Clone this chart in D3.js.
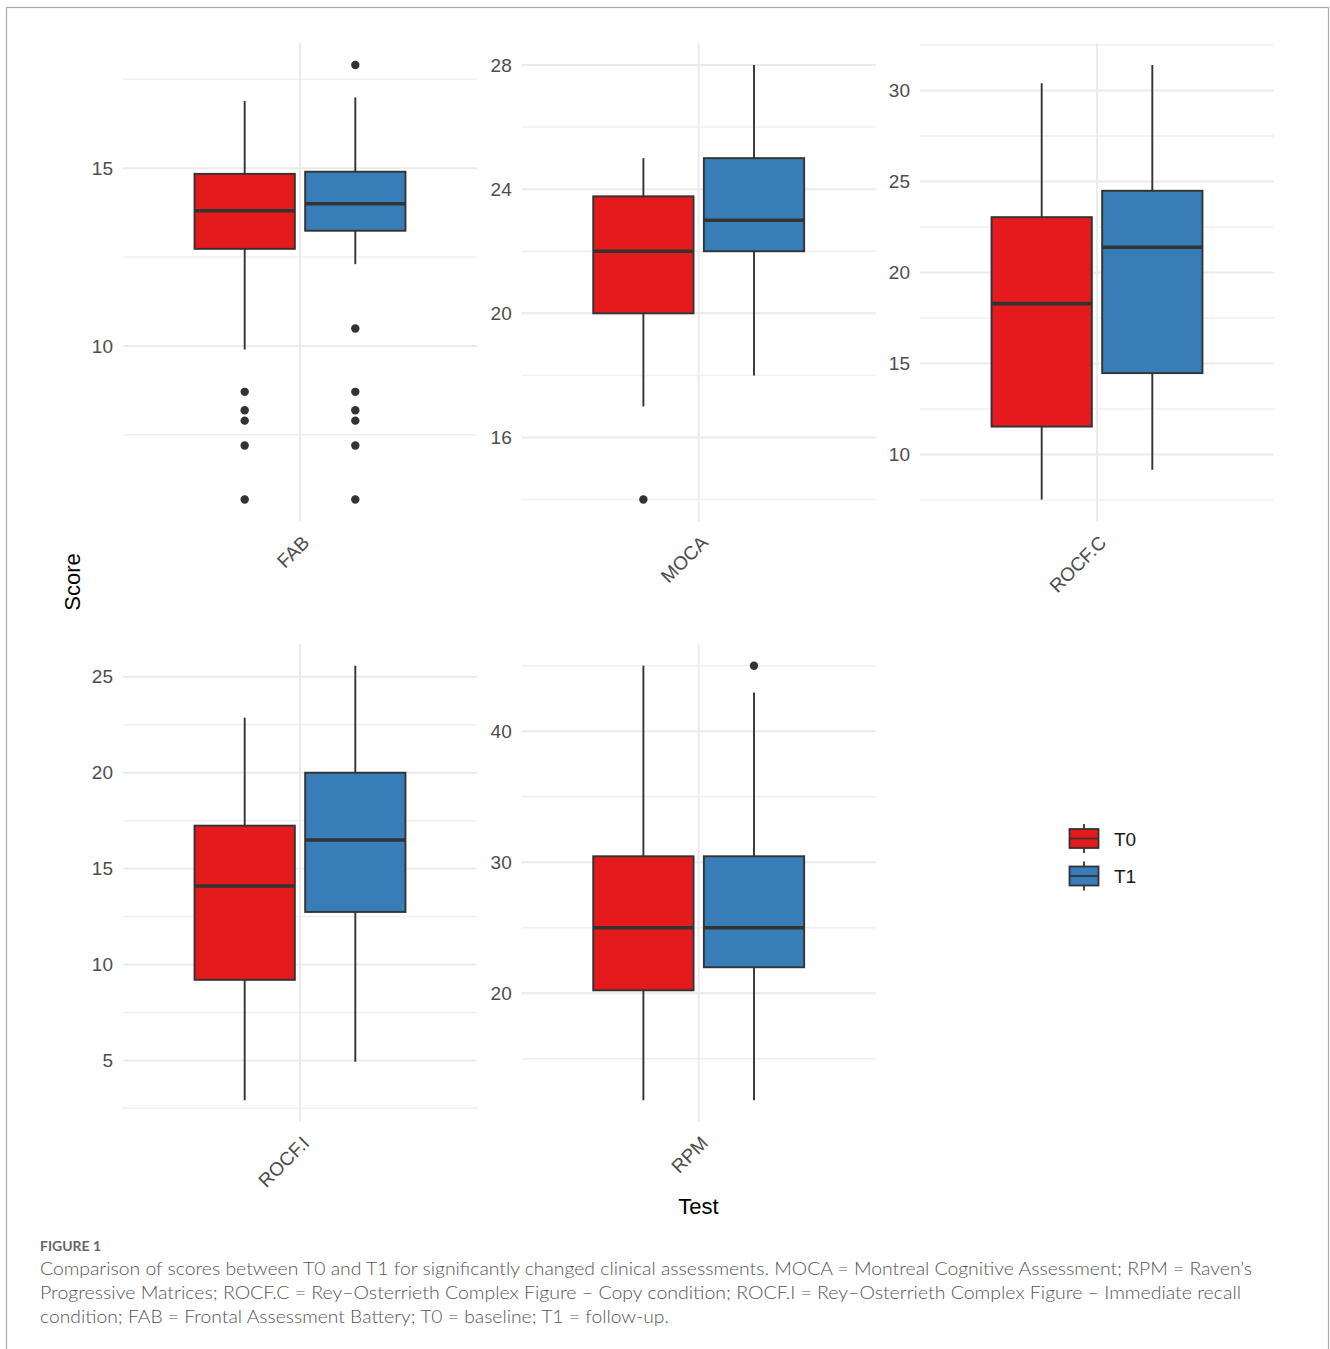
<!DOCTYPE html>
<html lang="en">
<head>
<meta charset="utf-8">
<title>Figure 1</title>
<script src="https://d3js.org/d3.v7.min.js"></script>
<style>
  body { margin: 0; background: white; }
  svg { font-family: "Liberation Sans", Arial, sans-serif; }
  .grid-major { stroke: #ebebeb; stroke-width: 2; }
  .grid-minor { stroke: #f0f0f0; stroke-width: 1.5; }
  .tick-label { fill: #4d4d4d; font-size: 19px; }
  .caption { fill: #555; font-family: Lato, "Open Sans", sans-serif; font-weight: 300; font-size: 17px; }
</style>
</head>
<body>
<div id="chart"></div>
<script>

// tests and groups
const tests = ["FAB", "MOCA", "ROCF.C", "ROCF.I", "RPM"];
const groups = ["T0", "T1"];

// box stats per test: [lower whisker, Q1, median, Q3, upper whisker]
const t0Stats = [
  [9.9, 12.73, 13.8, 14.84, 16.89],
  [17, 20, 22, 23.77, 25],
  [7.52, 11.53, 18.29, 23.04, 30.4],
  [2.92, 9.2, 14.09, 17.24, 22.87],
  [11.84, 20.23, 25, 30.46, 45]
];
const t1Stats = [
  [12.3, 13.24, 14.0, 14.9, 16.99],
  [18, 22, 23, 25, 28],
  [9.16, 14.47, 21.39, 24.49, 31.4],
  [4.93, 12.74, 16.49, 20, 25.58],
  [11.84, 21.99, 25, 30.46, 42.96]
];

// outliers per test
const t0Outliers = [[8.71, 8.19, 7.9, 7.2, 5.68], [14], [], [], []];
const t1Outliers = [[17.9, 10.49, 8.71, 8.19, 7.9, 7.2, 5.68], [], [], [], [45]];

// y tick labels per panel
const yTicks = [
  [10, 15],
  [16, 20, 24, 28],
  [10, 15, 20, 25, 30],
  [5, 10, 15, 20, 25],
  [20, 30, 40]
];

const colors = { T0: "#E41A1C", T1: "#377EB8" };

const W = 1330, H = 1349;
const pw = 354, ph = 478;
const colX = [123, 521.7, 920];
const rowY = [43.3, 644];

const svg = d3.select("#chart").append("svg")
  .attr("width", W).attr("height", H);

// outer frame
svg.append("rect")
  .attr("x", 6.5).attr("y", 7.5)
  .attr("width", 1322).attr("height", 1380)
  .attr("fill", "none").attr("stroke", "#aaa").attr("stroke-width", 1.2);

tests.forEach(function(test, i) {
  const px = colX[i % 3], py = rowY[Math.floor(i / 3)];
  const g = svg.append("g").attr("transform", "translate(" + px + "," + py + ")");

  const s0 = t0Stats[i], s1 = t1Stats[i];
  const allVals = s0.concat(s1, t0Outliers[i], t1Outliers[i]);
  const lo = d3.min(allVals), hi = d3.max(allVals);
  const pad = (hi - lo) * 0.05;

  const y = d3.scaleLinear().domain([lo - pad, hi + pad]).range([ph, 0]);
  const x = d3.scaleLinear().domain([0.4, 1.6]).range([0, pw]);

  // minor grid lines halfway between breaks
  const ticks = yTicks[i];
  const step = ticks[1] - ticks[0];
  const minor = [];
  for (let v = ticks[0] - step / 2; v <= hi + pad; v += step) {
    if (v >= lo - pad) minor.push(v);
  }
  g.selectAll(".grid-minor").data(minor).join("line")
    .attr("class", "grid-minor")
    .attr("x1", 0).attr("x2", pw)
    .attr("y1", d => y(d)).attr("y2", d => y(d));

  g.selectAll(".grid-major").data(ticks).join("line")
    .attr("class", "grid-major")
    .attr("x1", 0).attr("x2", pw)
    .attr("y1", d => y(d)).attr("y2", d => y(d));

  g.append("line").attr("class", "grid-major")
    .attr("x1", x(1)).attr("x2", x(1))
    .attr("y1", 0).attr("y2", ph);

  // y tick labels
  g.selectAll(".tick-label").data(ticks).join("text")
    .attr("class", "tick-label")
    .attr("x", -10).attr("y", d => y(d))
    .attr("dy", "0.35em")
    .attr("text-anchor", "end")
    .text(d => d);

  // x label, rotated 45
  g.append("text")
    .attr("class", "tick-label")
    .attr("text-anchor", "end")
    .attr("transform", "translate(" + (x(1) + 1) + "," + (ph + 13) + ") rotate(-45)")
    .attr("dy", "0.7em")
    .text(test);

  // boxes
  const half = x(1.17) - x(1);
  [[s0, t0Outliers[i], "T0", 1 - 0.1875], [s1, t1Outliers[i], "T1", 1 + 0.1875]].forEach(function(b) {
    const st = b[0], cx = x(b[3]);
    const bg = g.append("g");
    bg.append("line")
      .attr("x1", cx).attr("x2", cx)
      .attr("y1", y(st[4])).attr("y2", y(st[3]))
      .attr("stroke", "#333").attr("stroke-width", 1.9);
    bg.append("line")
      .attr("x1", cx).attr("x2", cx)
      .attr("y1", y(st[1])).attr("y2", y(st[0]))
      .attr("stroke", "#333").attr("stroke-width", 1.9);
    bg.append("rect")
      .attr("x", cx - half).attr("width", half * 2)
      .attr("y", y(st[3])).attr("height", y(st[1]) - y(st[3]))
      .attr("fill", colors[b[2]])
      .attr("stroke", "#333").attr("stroke-width", 1.9);
    bg.append("line")
      .attr("x1", cx - half).attr("x2", cx + half)
      .attr("y1", y(st[2])).attr("y2", y(st[2]))
      .attr("stroke", "#333").attr("stroke-width", 3.6);
    bg.selectAll("circle").data(b[1]).join("circle")
      .attr("cx", cx).attr("cy", d => y(d))
      .attr("r", 4.2).attr("fill", "#333");
  });
});

// axis titles
svg.append("text")
  .attr("transform", "translate(80,582) rotate(-90)")
  .attr("text-anchor", "middle")
  .attr("font-size", 22).attr("fill", "#000")
  .text("Score");

svg.append("text")
  .attr("x", 698.5).attr("y", 1214)
  .attr("text-anchor", "middle")
  .attr("font-size", 22).attr("fill", "#000")
  .text("Test");

// legend
const legend = svg.append("g").attr("transform", "translate(1069,829)");
groups.forEach(function(grp, k) {
  const lg = legend.append("g").attr("transform", "translate(0," + (k * 37.5) + ")");
  lg.append("line").attr("x1", 15).attr("x2", 15).attr("y1", -5).attr("y2", 24)
    .attr("stroke", "#333").attr("stroke-width", 1.8);
  lg.append("rect").attr("x", 0.5).attr("y", 0).attr("width", 29).attr("height", 19)
    .attr("fill", colors[grp]).attr("stroke", "#333").attr("stroke-width", 1.8);
  lg.append("line").attr("x1", 0.5).attr("x2", 29.5).attr("y1", 9.5).attr("y2", 9.5)
    .attr("stroke", "#333").attr("stroke-width", 1.8);
  lg.append("text").attr("x", 45).attr("y", 10).attr("dy", "0.35em")
    .attr("font-size", 19).attr("fill", "#1a1a1a")
    .text(grp);
});

// caption
const captionLines = [
  "Comparison of scores between T0 and T1 for significantly changed clinical assessments. MOCA = Montreal Cognitive Assessment; RPM = Raven\u2019s",
  "Progressive Matrices; ROCF.C = Rey\u2013Osterrieth Complex Figure \u2013 Copy condition; ROCF.I = Rey\u2013Osterrieth Complex Figure \u2013 Immediate recall",
  "condition; FAB = Frontal Assessment Battery; T0 = baseline; T1 = follow-up."
];
const captionWidths = [1212, 1201, 629];

svg.append("text")
  .attr("x", 40).attr("y", 1251)
  .attr("font-family", "Lato, sans-serif").attr("font-weight", 700)
  .attr("font-size", 13).attr("fill", "#666")
  .attr("textLength", 61).attr("lengthAdjust", "spacingAndGlyphs")
  .text("FIGURE 1");

svg.selectAll(".caption").data(captionLines).join("text")
  .attr("class", "caption")
  .attr("x", 40).attr("y", (d, k) => 1275 + k * 24)
  .attr("textLength", (d, k) => captionWidths[k])
  .attr("lengthAdjust", "spacingAndGlyphs")
  .text(d => d);

</script>
</body>
</html>
